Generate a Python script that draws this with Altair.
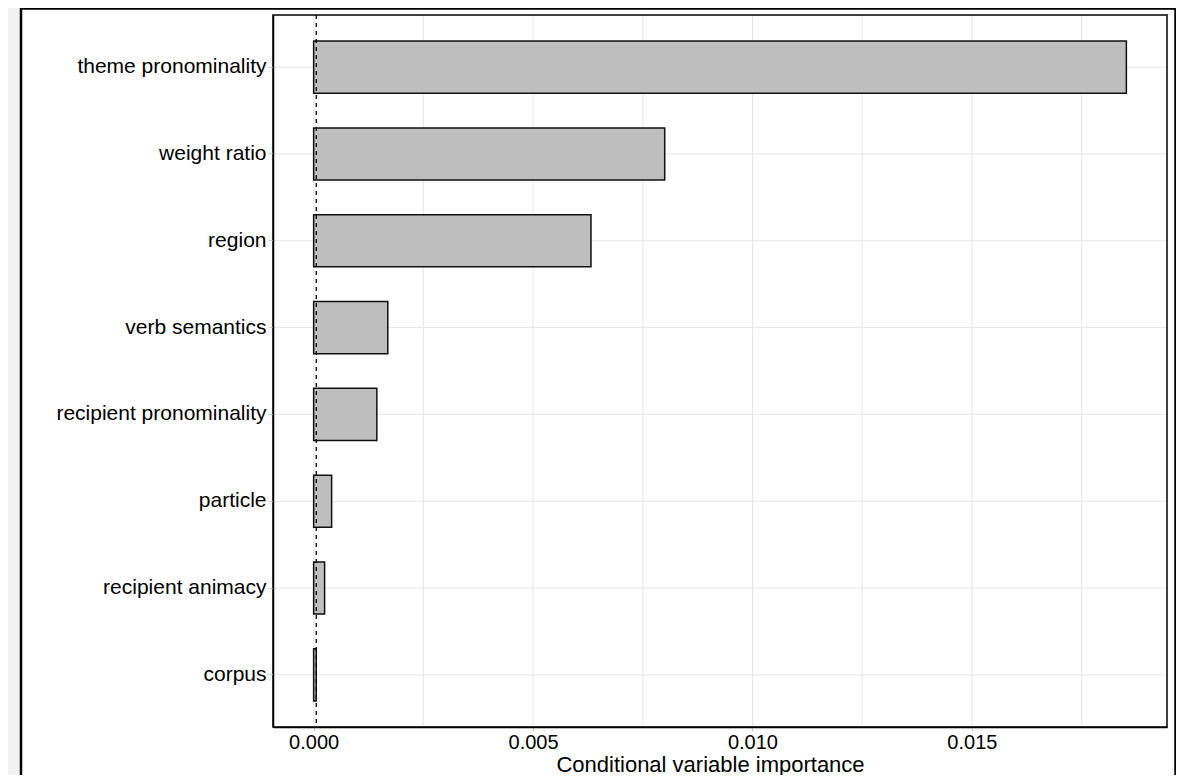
import altair as alt
import pandas as pd

variables = ["theme pronominality", "weight ratio", "region", "verb semantics",
             "recipient pronominality", "particle", "recipient animacy", "corpus"]
importance = [0.01852, 0.00800, 0.00632, 0.00169, 0.00144, 0.00041, 0.00025, 0.00006]
major_ticks = [0.0, 0.005, 0.010, 0.015]
minor_ticks = [0.0025, 0.0075, 0.0125, 0.0175]
ref_line = [0.00006]
x_domain = [-0.000926, 0.019446]

FONT = "Liberation Sans"
GRID = "#e6e6e6"

df = pd.DataFrame({"variable": variables, "importance": importance})
grid_df = pd.DataFrame({"v": major_ticks + minor_ticks})
ref_df = pd.DataFrame({"v": ref_line})
cat_df = pd.DataFrame({"variable": variables})
frame_df = pd.DataFrame({"a": [0]})

xscale = alt.Scale(domain=x_domain, nice=False, zero=False)
yscale = alt.Scale(domain=variables, paddingInner=0.4, paddingOuter=0.3)

x_axis = alt.Axis(values=major_ticks, format=".3f", grid=False, zindex=1,
                  title="Conditional variable importance",
                  tickColor="#cccccc", tickSize=4, labelPadding=1,
                  labelFont=FONT, labelFontSize=20, labelColor="black",
                  titleFont=FONT, titleFontSize=22, titleFontWeight="normal",
                  titleColor="black", titleBaseline="alphabetic",
                  titleY=44, titleX=437, titleAlign="center",
                  domainColor="black", domainWidth=1.5)
y_axis = alt.Axis(title=None, grid=False, zindex=1, tickColor="#cccccc", tickSize=5,
                  labelPadding=2, labelLimit=400,
                  labelFont=FONT, labelFontSize=21, labelColor="black",
                  domainColor="black", domainWidth=1.5, bandPosition=0.5)

frame = alt.Chart(frame_df).mark_rect(
    fill="white", stroke="black", strokeWidth=2.5
).encode(
    x=alt.value(-252), x2=alt.value(902.5), y=alt.value(-6.5), y2=alt.value(790)
)

xgrid = alt.Chart(grid_df).mark_rule(color=GRID, strokeWidth=1).encode(
    x=alt.X("v:Q", scale=xscale, axis=x_axis)
)

ygrid = alt.Chart(cat_df).mark_rule(color=GRID, strokeWidth=1).encode(
    y=alt.Y("variable:N", scale=yscale, sort=variables, axis=y_axis)
)

bars = alt.Chart(df).mark_bar(
    fill="#bebebe", stroke="#111111", strokeWidth=1.5
).encode(
    x=alt.X("importance:Q", scale=xscale, axis=x_axis),
    y=alt.Y("variable:N", scale=yscale, sort=variables, axis=y_axis),
)

ref = alt.Chart(ref_df).mark_rule(color="black", strokeWidth=1.3, strokeDash=[4, 4]).encode(
    x=alt.X("v:Q", scale=xscale, axis=x_axis)
)

border = alt.Chart(frame_df).mark_rect(
    fillOpacity=0, stroke="black", strokeWidth=1.5
).encode(
    x=alt.value(0), x2=alt.value(894), y=alt.value(0), y2=alt.value(712)
)

chart = alt.layer(frame, xgrid, ygrid, bars, ref, border).properties(
    width=894, height=712,
    autosize=alt.AutoSizeParams(type="none"),
    padding={"left": 265, "top": 7, "right": 9, "bottom": 48},
    background="#f2f2f2",
).configure_view(stroke=None)

chart.save("out.html", embed_options={"renderer": "svg", "actions": False})
